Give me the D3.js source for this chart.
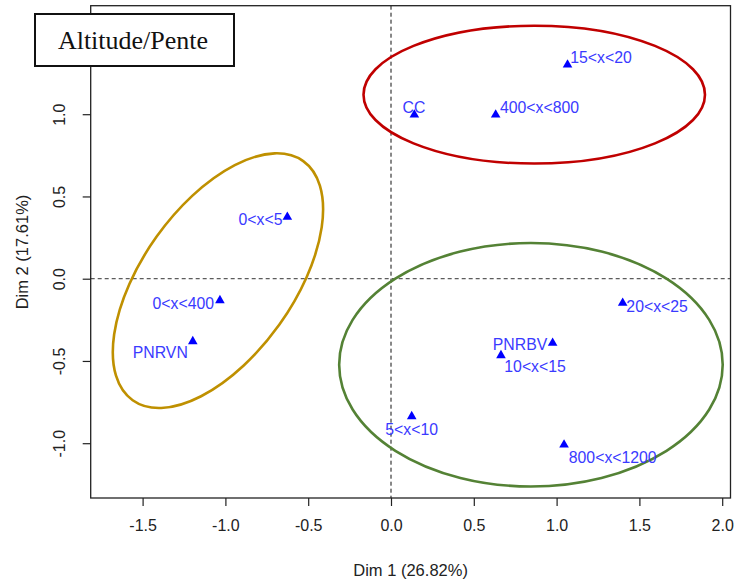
<!DOCTYPE html>
<html>
<head>
<meta charset="utf-8">
<script src="https://cdn.jsdelivr.net/npm/d3@7"></script>
<style>
  body { margin: 0; background: #fff; }
  svg text { font-family: "Liberation Sans", Arial, sans-serif; }
</style>
</head>
<body>
<div id="chart"></div>
<script>
// modalities (MCA, dims 1 & 2)
var labels = ["15<x<20", "CC", "400<x<800", "0<x<5", "0<x<400", "PNRVN",
              "20<x<25", "PNRBV", "10<x<15", "5<x<10", "800<x<1200"];
var dim1 = [1.066, 0.141, 0.632, -0.626, -1.033, -1.197, 1.399, 0.976, 0.664, 0.125, 1.045];
var dim2 = [1.301, 0.997, 0.997, 0.375, -0.132, -0.381, -0.148, -0.391, -0.466, -0.837, -1.009];
// where the text sits (centre of label, same units)
var labX = [1.268, 0.139, 0.897, -0.788, -1.254, -1.393, 1.607, 0.779, 0.870, 0.125, 1.339];
var labY = [1.342, 1.040, 1.040, 0.359, -0.148, -0.448, -0.168, -0.401, -0.533, -0.914, -1.086];

var xTicks = [-1.5, -1.0, -0.5, 0.0, 0.5, 1.0, 1.5, 2.0];
var yTicks = [-1.0, -0.5, 0.0, 0.5, 1.0];

// groups drawn by hand around the clusters
var groupCx = [0.865, -1.045, 0.845];
var groupCy = [1.119, -0.012, -0.523];
var groupRx = [1.031, 0.887, 1.158];
var groupRy = [0.419, 0.459, 0.740];
var groupAngle = [0, 54.5, 0];
var groupColor = ["#c00000", "#bf9000", "#548235"];

var width = 735, height = 585;
var margin = {top: 5.7, right: 4.5, bottom: 87, left: 90.7};

var svg = d3.select("#chart").append("svg")
    .attr("width", width)
    .attr("height", height);

var x = d3.scaleLinear()
    .domain([-1.8134, 2.0501])
    .range([margin.left, width - margin.right]);
var y = d3.scaleLinear()
    .domain([-1.3331, 1.6596])
    .range([height - margin.bottom, margin.top]);

var fmt = function (d) { return d3.format(".1f")(d).replace("\u2212", "-"); };

// zero lines
svg.append("line")
    .attr("x1", x(0)).attr("x2", x(0))
    .attr("y1", y.range()[1]).attr("y2", y.range()[0])
    .attr("stroke", "#111").attr("stroke-dasharray", "4,3");
svg.append("line")
    .attr("x1", x.range()[0]).attr("x2", x.range()[1])
    .attr("y1", y(0)).attr("y2", y(0))
    .attr("stroke", "#333").attr("stroke-dasharray", "4,3");

// ellipses
svg.selectAll("ellipse.grp")
    .data(groupCx)
    .enter()
    .append("ellipse")
        .attr("class", "grp")
        .attr("cx", function (d) { return x(d); })
        .attr("cy", function (d, i) { return y(groupCy[i]); })
        .attr("rx", function (d, i) { return x(groupRx[i]) - x(0); })
        .attr("ry", function (d, i) { return y(0) - y(groupRy[i]); })
        .attr("transform", function (d, i) {
            return "rotate(" + (-groupAngle[i]) + "," + x(d) + "," + y(groupCy[i]) + ")";
        })
        .attr("fill", "none")
        .attr("stroke", function (d, i) { return groupColor[i]; })
        .attr("stroke-width", 2.6);

// points
svg.selectAll("path.pt")
    .data(labels)
    .enter()
    .append("path")
        .attr("class", "pt")
        .attr("d", d3.symbol().type(d3.symbolTriangle).size(40))
        .attr("transform", function (d, i) {
            return "translate(" + x(dim1[i]) + "," + y(dim2[i]) + ")";
        })
        .attr("fill", "#0000ff");

svg.selectAll("text.lab")
    .data(labels)
    .enter()
    .append("text")
        .attr("class", "lab")
        .attr("x", function (d, i) { return x(labX[i]); })
        .attr("y", function (d, i) { return y(labY[i]); })
        .attr("text-anchor", "middle")
        .attr("dominant-baseline", "central")
        .attr("fill", "#3a3aff")
        .style("font-size", "15.8px")
        .text(function (d) { return d; });

// frame
svg.append("rect")
    .attr("x", x.range()[0]).attr("y", y.range()[1])
    .attr("width", x.range()[1] - x.range()[0])
    .attr("height", y.range()[0] - y.range()[1])
    .attr("fill", "none").attr("stroke", "#222").attr("stroke-width", 1.3);

// axes (R style: no domain line, ticks outward)
var xAxis = svg.append("g")
    .attr("transform", "translate(0," + y.range()[0] + ")")
    .call(d3.axisBottom(x).tickValues(xTicks).tickFormat(fmt).tickSize(8).tickPadding(14));
var yAxis = svg.append("g")
    .attr("transform", "translate(" + x.range()[0] + ",0)")
    .call(d3.axisLeft(y).tickValues(yTicks).tickFormat(fmt).tickSize(8).tickPadding(0));

[xAxis, yAxis].forEach(function (g) {
    g.select(".domain").remove();
    g.selectAll(".tick line").attr("stroke", "#222").attr("stroke-width", 1.2);
    g.selectAll("text")
        .attr("fill", "#222")
        .style("font-size", "16px")
        .style("font-family", "'Liberation Sans', Arial, sans-serif");
});
yAxis.selectAll(".tick text")
    .attr("x", 0).attr("dy", null)
    .attr("text-anchor", "middle")
    .attr("dominant-baseline", "central")
    .attr("transform", "translate(-31,0) rotate(-90)");

svg.append("text")
    .attr("x", (x.range()[0] + x.range()[1]) / 2)
    .attr("y", 576)
    .attr("text-anchor", "middle")
    .attr("fill", "#222")
    .style("font-size", "16.5px")
    .text("Dim 1 (26.82%)");
svg.append("text")
    .attr("transform", "translate(28," + 252 + ") rotate(-90)")
    .attr("text-anchor", "middle")
    .attr("fill", "#222")
    .style("font-size", "16.5px")
    .text("Dim 2 (17.61%)");

// title box
svg.append("rect")
    .attr("x", 35).attr("y", 14)
    .attr("width", 199).attr("height", 52)
    .attr("fill", "#fff").attr("stroke", "#111").attr("stroke-width", 2);
svg.append("text")
    .attr("x", 133).attr("y", 49)
    .attr("text-anchor", "middle")
    .style("font-family", "'Liberation Serif', 'Times New Roman', serif")
    .style("font-size", "26px")
    .attr("fill", "#111")
    .text("Altitude/Pente");
</script>
</body>
</html>
